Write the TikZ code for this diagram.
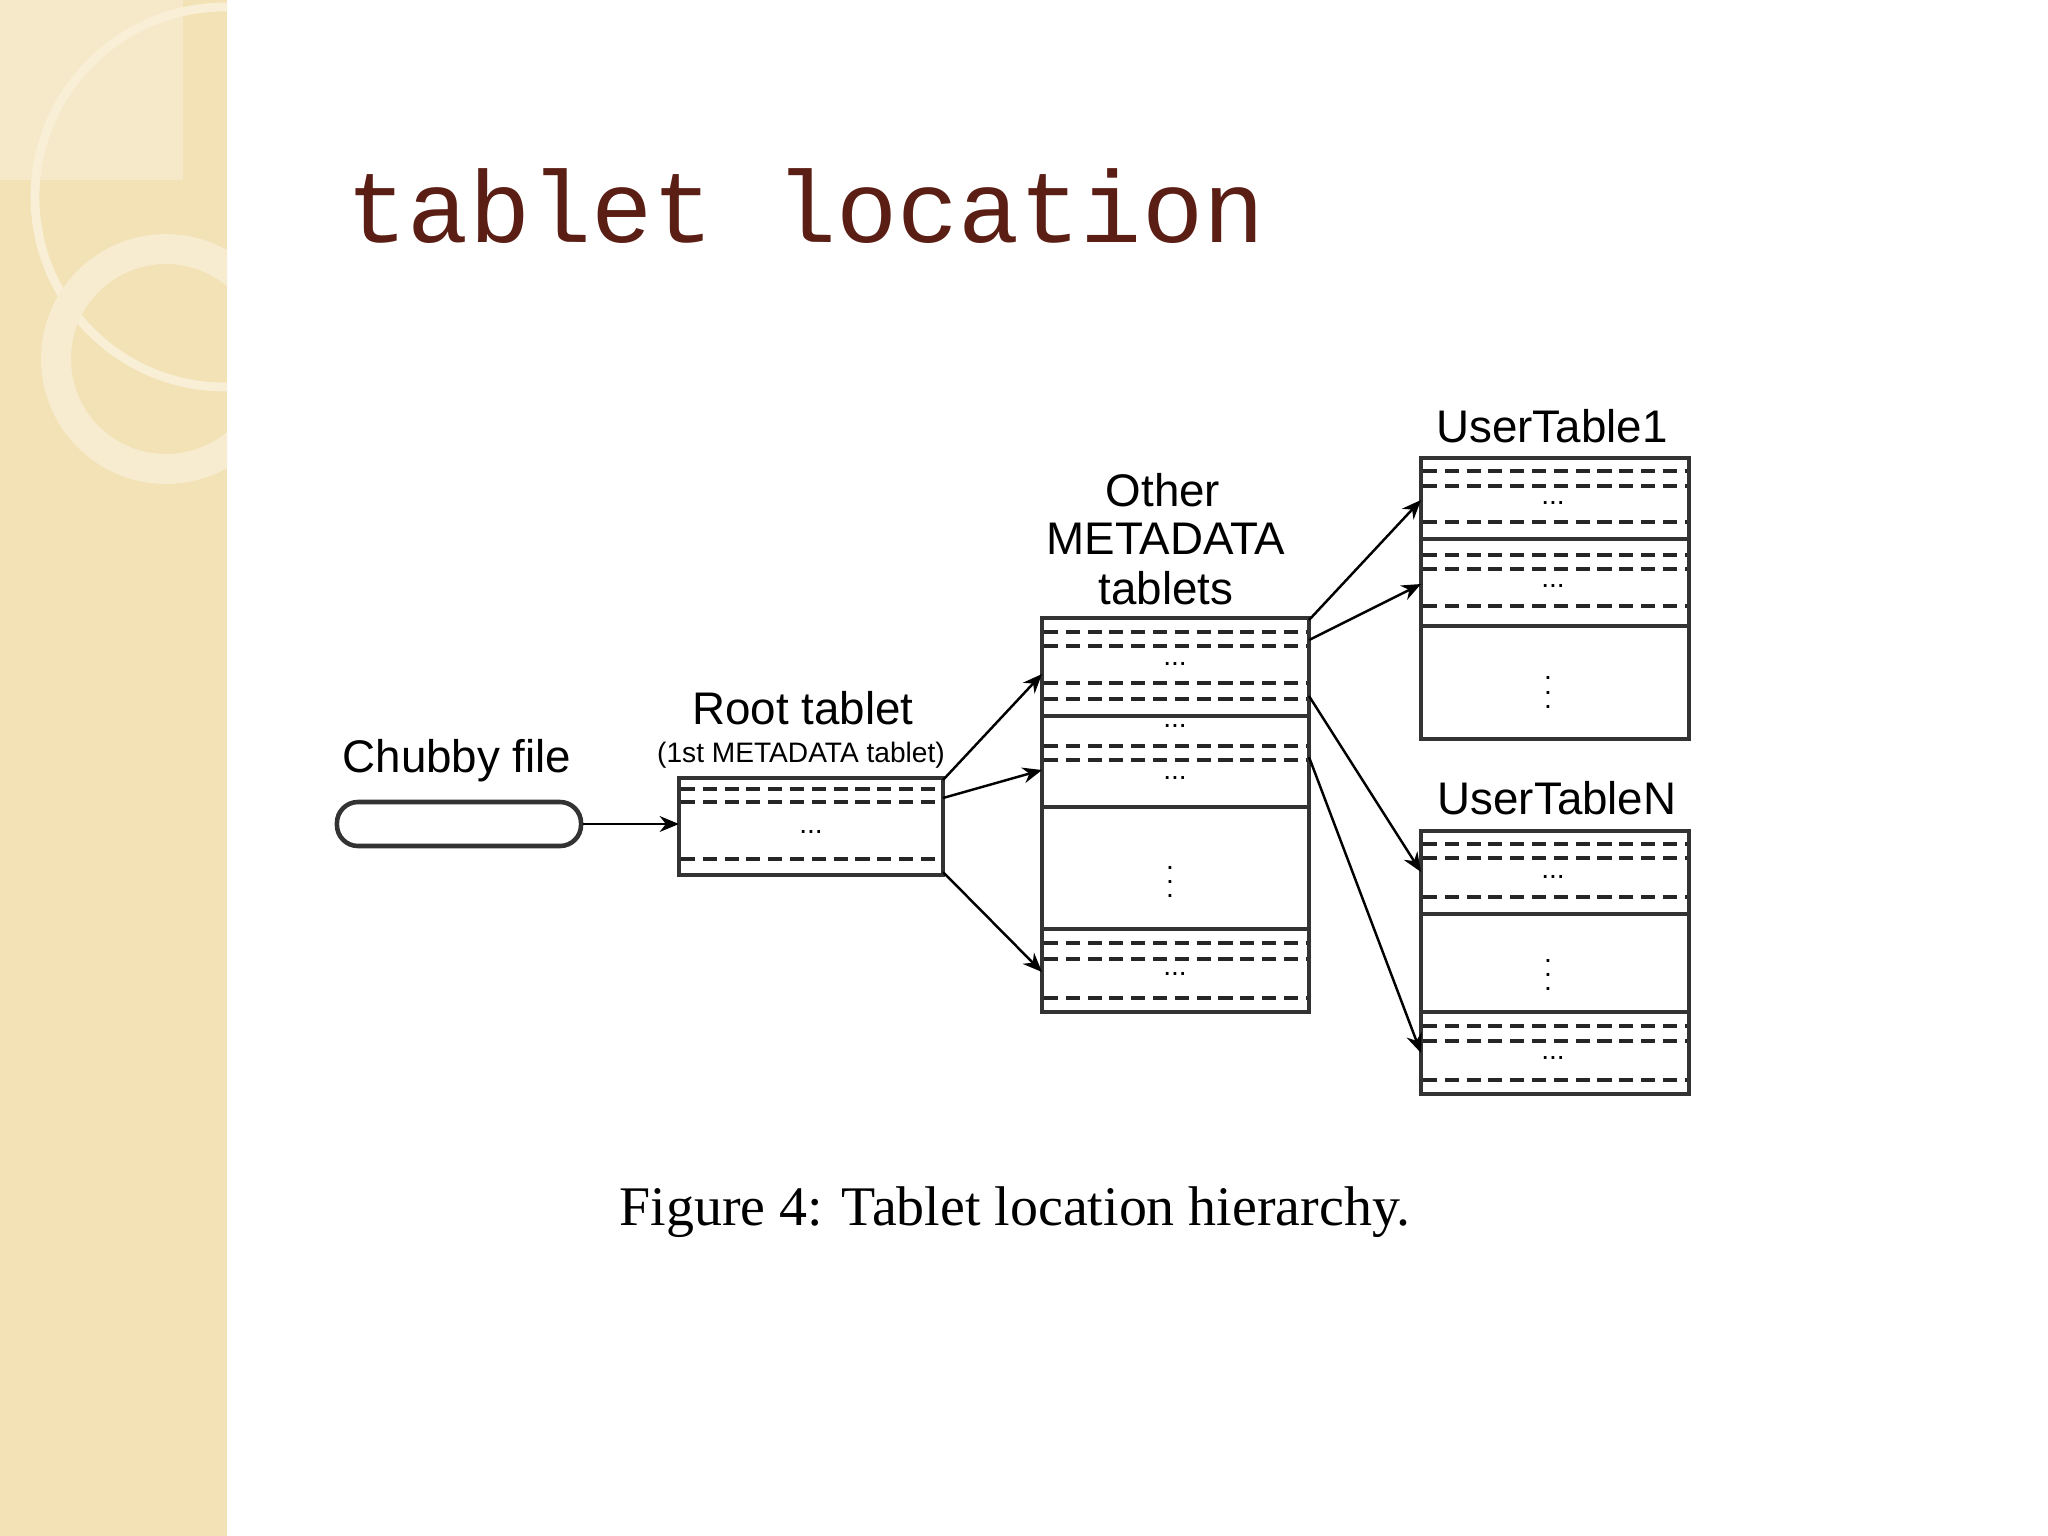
\documentclass[tikz,border=0pt]{standalone}
\usepackage{fontspec}
\setmainfont{Liberation Sans}
\newfontfamily\titlefont{Liberation Mono}
\newfontfamily\capfont{Liberation Serif}
\usetikzlibrary{arrows.meta}
\definecolor{side}{HTML}{F2E2B6}
\definecolor{ring}{HTML}{F8EFD6}
\definecolor{titlec}{HTML}{5A1E14}
\tikzset{
  box/.style={draw=black!80,line width=1.3pt},
  dl/.style={line width=0.9pt,dash pattern=on 4pt off 2.2pt,black!85},
  sl/.style={line width=1.1pt,black!80},
  arr/.style={line width=0.7pt,-{Stealth[length=5.5pt,width=4.5pt]}},
  lab/.style={font=\fontsize{13}{15}\selectfont,inner sep=0pt},
  dots/.style={font=\fontsize{8}{8}\selectfont,inner sep=0pt}
}
\begin{document}
\begin{tikzpicture}[x=0.01cm,y=-0.01cm]
\useasboundingbox (0,0) rectangle (2048,1536);
\fill[white] (0,0) rectangle (2048,1536);
% sidebar
\fill[side] (0,0) rectangle (227,1536);
\begin{scope}
\clip (0,0) rectangle (227,1536);
\fill[ring,opacity=0.6] (0,0) rectangle (183,180);
\draw[ring,line width=2.5pt] (225,197) circle (190);
\draw[ring!80!side,line width=8.5pt] (166,359) circle (110);
\end{scope}
% title
\node[anchor=base west,inner sep=0pt,text=titlec,font=\titlefont\fontsize{29}{30}\selectfont] (title) at (346,242) {tablet location};
% Chubby file
\node[draw=black!80,line width=1.3pt,rounded corners=6pt,minimum width=2.44cm,minimum height=0.44cm,inner sep=0pt] (chubby) at (459,824) {};
\node[lab] (chubbyl) at (457,761) {Chubby file};
% Root tablet
\node[lab] (rootl) at (803,708) {Root tablet};
\node[lab,font=\fontsize{8}{9}\selectfont] (rootl2) at (801,755) {(1st METADATA tablet)};
\draw[box] (679,778) rectangle (943,875);
\foreach \y in {789,802,859} \draw[dl] (681,\y) -- (941,\y);
\node[dots] (rootd) at (811,832) {...};
% Other METADATA
\node[lab] (otherl1) at (1163,490) {Other};
\node[lab] (otherl2) at (1166,539) {METADATA};
\node[lab] (otherl3) at (1166,588) {tablets};
\draw[box] (1042,618) rectangle (1309,1012);
\foreach \y in {716,807,929} \draw[sl] (1042,\y) -- (1309,\y);
\foreach \y in {632,646,683,699,746,760,943,959,998} \draw[dl] (1044,\y) -- (1307,\y);
\node[dots] (od1) at (1175,664) {...};
\node[dots] (od2) at (1175,726) {...};
\node[dots] (od3) at (1175,778) {...};
\node[dots] (od4) at (1170,871) {$\vdots$};
\node[dots] (od5) at (1175,974) {...};
% UserTable1
\node[lab] (u1l) at (1552,426) {UserTable1};
\draw[box] (1421,458) rectangle (1689,739);
\foreach \y in {539,626} \draw[sl] (1421,\y) -- (1689,\y);
\foreach \y in {471,486,522,555,569,606} \draw[dl] (1423,\y) -- (1687,\y);
\node[dots] (u1d1) at (1553,503) {...};
\node[dots] (u1d2) at (1553,586) {...};
\node[dots] (u1d3) at (1548,682) {$\vdots$};
% UserTableN
\node[lab] (unl) at (1557,798) {UserTableN};
\draw[box] (1421,831) rectangle (1689,1094);
\foreach \y in {914,1012} \draw[sl] (1421,\y) -- (1689,\y);
\foreach \y in {844,858,897,1026,1041,1080} \draw[dl] (1423,\y) -- (1687,\y);
\node[dots] (und1) at (1553,877) {...};
\node[dots] (und2) at (1548,964) {$\vdots$};
\node[dots] (und3) at (1553,1058) {...};
% arrow coordinates
\coordinate (r0) at (679,824);
\coordinate (a1) at (943,780); \coordinate (b1) at (1042,674);
\coordinate (a2) at (943,798); \coordinate (b2) at (1042,770);
\coordinate (a3) at (943,872); \coordinate (b3) at (1042,972);
\coordinate (p1) at (1309,620); \coordinate (q1) at (1421,500);
\coordinate (p2) at (1309,640); \coordinate (q2) at (1421,584);
\coordinate (p3) at (1309,696); \coordinate (q3) at (1421,872);
\coordinate (p4) at (1309,757); \coordinate (q4) at (1421,1053);
\draw[arr] (chubby.east) -- (r0);
\draw[arr] (a1) -- (b1);
\draw[arr] (a2) -- (b2);
\draw[arr] (a3) -- (b3);
\draw[arr] (p1) -- (q1);
\draw[arr] (p2) -- (q2);
\draw[arr] (p3) -- (q3);
\draw[arr] (p4) -- (q4);
% caption
\node[inner sep=0pt,font=\capfont\fontsize{15.9}{17}\selectfont] (cap) at (1015,1212) {Figure 4: Tablet location hierarchy.};
\end{tikzpicture}
\end{document}
